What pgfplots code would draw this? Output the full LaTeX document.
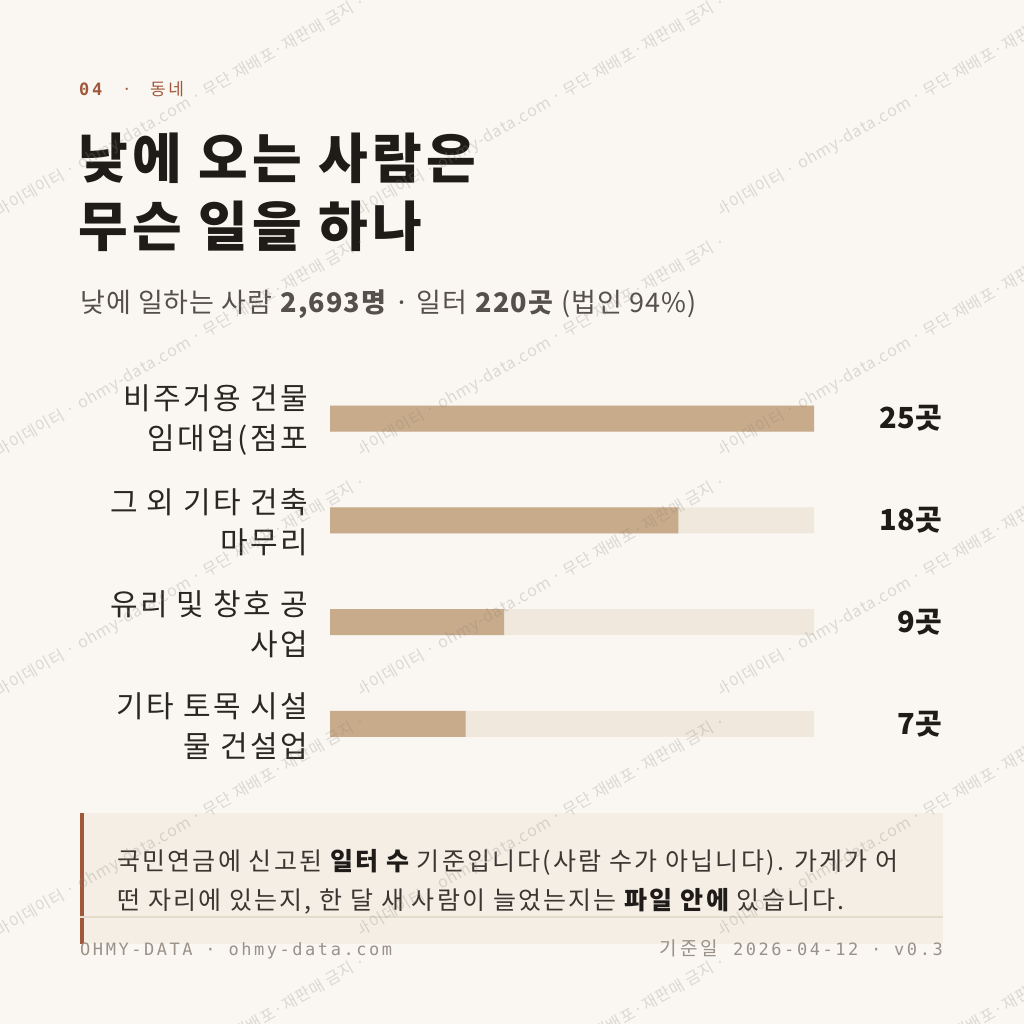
\documentclass[border=0pt]{standalone}
\usepackage{fontspec}
\usepackage{pgfplots}
\pgfplotsset{compat=1.18}
\setmainfont{Noto Sans CJK KR}
\newfontfamily\monohead{DejaVu Sans Mono}[LetterSpace=16]
\newfontfamily\mono{DejaVu Sans Mono}[LetterSpace=15]
\newfontfamily\krsp{Noto Sans CJK KR}[LetterSpace=15]
\definecolor{bg}{HTML}{FAF7F2}
\definecolor{ink}{HTML}{1E1B18}
\definecolor{lab}{HTML}{2A2622}
\definecolor{sub}{HTML}{55504A}
\definecolor{rust}{HTML}{A0573A}
\definecolor{barc}{HTML}{C8AB8A}
\definecolor{track}{HTML}{F0E8DC}
\definecolor{notebg}{HTML}{F5EEE4}
\definecolor{notetx}{HTML}{3A3631}
\definecolor{rule}{HTML}{E6DCCD}
\definecolor{foot}{HTML}{9A9189}
\definecolor{wm}{HTML}{8C857D}
\newcommand{\fs}[2]{\fontsize{#1}{#2}\selectfont}
\newcommand{\ls}[1]{\addfontfeatures{LetterSpace=#1}}
\begin{document}
\begin{tikzpicture}
\path[use as bounding box] (0,0) rectangle (1024pt,-1024pt);
\fill[bg] (0,0) rectangle (1024pt,-1024pt);
\begin{scope}[x=1pt,y=-1pt]
% header
\node[anchor=base west, inner sep=0, text=rust, font=\monohead\fs{17}{20}\bfseries] at (79,96) {04};
\node[anchor=base, inner sep=0, text=rust, font=\fs{17}{20}] at (127,96) {·};
\node[anchor=base west, inner sep=0, text=rust, font=\krsp\fs{17}{20}] at (150,96) {동네};
\node[anchor=base west, inner sep=0, text=ink, font=\fs{54}{64}\ls{8}\bfseries] at (78,179) {낮에 오는 사람은};
\node[anchor=base west, inner sep=0, text=ink, font=\fs{54}{64}\ls{8}\bfseries] at (78,246) {무슨 일을 하나};
\node[anchor=base west, inner sep=0, text=sub, font=\fs{27}{32}\ls{4}] at (80,312) {낮에 일하는 사람 \textbf{2,693명} · 일터 \textbf{220곳} (법인 94\%)};
% note box
\fill[notebg] (80,813) rectangle (943,944);
\fill[rust] (80,813) rectangle (84,944);
\node[anchor=base west, inner sep=0, text=notetx, font=\fs{25}{30}\ls{8.8}] at (117,870) {국민연금에 신고된 {\color{ink}\bfseries 일터 수} 기준입니다(사람 수가 아닙니다). 가게가 어};
\node[anchor=base west, inner sep=0, text=notetx, font=\fs{25}{30}\ls{8.8}] at (117,909) {떤 자리에 있는지, 한 달 새 사람이 늘었는지는 {\color{ink}\bfseries 파일 안에} 있습니다.};
\draw[rule, line width=1.5pt] (80,917) -- (943,917);
% footer
\node[anchor=base west, inner sep=0, text=foot, font=\mono\fs{17}{20}] at (80,955) {OHMY-DATA · ohmy-data.com};
\node[anchor=base east, inner sep=0, text=foot, font=\mono\fs{17}{20}] at (943,955) {{\krsp\fs{19}{20}기준일}\hspace{15pt}2026-04-12 · v0.3};
\end{scope}
\begin{axis}[at={(330pt,-774.9pt)}, anchor=south west,
  width=484pt, height=407.3pt, scale only axis,
  xmin=0, xmax=25, ymin=-0.5, ymax=3.5,
  axis line style={draw=none}, tick style={draw=none}, major tick length=0pt,
  xtick=\empty, ytick={0,1,2,3},
  yticklabels={{기타 토목 시설\\물 건설업},{유리 및 창호 공\\사업},{그 외 기타 건축\\마무리},{비주거용 건물\\임대업(점포}},
  yticklabel style={align=right, font=\fs{30}{40}\ls{8}, text=lab, inner sep=0pt, anchor=east, xshift=-22pt, yshift=-2pt},
  clip=false]
\addplot[xbar, bar width=26pt, bar shift=0pt, fill=track, draw=none,
  point meta=explicit symbolic, nodes near coords={\pgfplotspointmeta},
  nodes near coords style={anchor=east, xshift=128pt, font=\fs{29}{34}\bfseries, text=ink, inner sep=0pt}]
  coordinates {(25,3) [25곳] (25,2) [18곳] (25,1) [9곳] (25,0) [7곳]};
\addplot[xbar, bar width=26pt, bar shift=0pt, fill=barc, draw=none]
  coordinates {(25,3) (18,2) (9,1) (7,0)};
\end{axis}
% watermark
\begin{scope}[x=1pt,y=-1pt]
\foreach \tx in {0,360,720}{\foreach \ty in {0,240,480,720,960}{
  \begin{scope}
  \clip (\tx,\ty) rectangle ++(360,240);
  \node[rotate=30, anchor=base west, inner sep=0, text=wm, opacity=0.28, font=\fs{16}{18}\ls{5}] at (\tx-14,\ty+225) {오마이데이터 · ohmy-data.com · 무단 재배포·재판매 금지 · 표시};
  \end{scope}}}
\end{scope}
\end{tikzpicture}
\end{document}
